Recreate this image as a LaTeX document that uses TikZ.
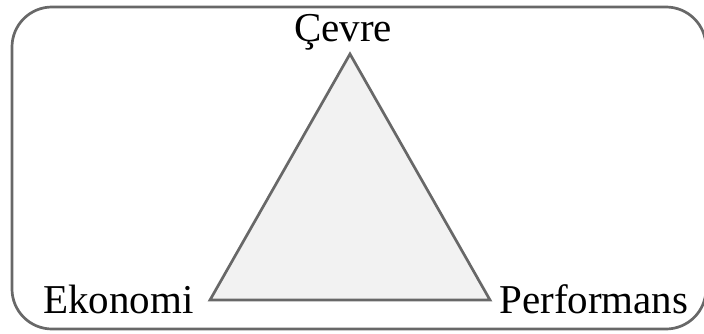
\documentclass[tikz,border=0pt]{standalone}
\usepackage{fontspec}
\setmainfont{Liberation Serif}
\usepackage{xcolor}
\usetikzlibrary{positioning,calc}
\definecolor{edge}{RGB}{104,104,104}
\definecolor{soft}{RGB}{242,242,242}
\newcommand{\lbl}[1]{\fontsize{41}{49}\selectfont #1}

\begin{document}
\begin{tikzpicture}[x=1pt,y=1pt,line width=2.7pt]
\useasboundingbox (0,0) rectangle (704,333);
\clip (0,0) rectangle (704,333);
% outer frame, runs past the right edge
\draw[edge,rounded corners=40pt] (12,4) rectangle (706,326);
% corners of the triangle
\coordinate (top) at (350,279);
\coordinate (left) at (210,33);
\coordinate (right) at (490,33);
\draw[edge,fill=soft,line join=miter] (left) -- (top) -- (right) -- cycle;
\node[anchor=base,inner sep=0pt] (cevre) at (343,291){\lbl{Çevre}};
\node[anchor=base east,inner sep=0pt] (ekonomi) at (195,20){\lbl{Ekonomi}};
\node[anchor=base west,inner sep=0pt] (perf) at (498,20){\lbl{Performans}};
\end{tikzpicture}
\end{document}
